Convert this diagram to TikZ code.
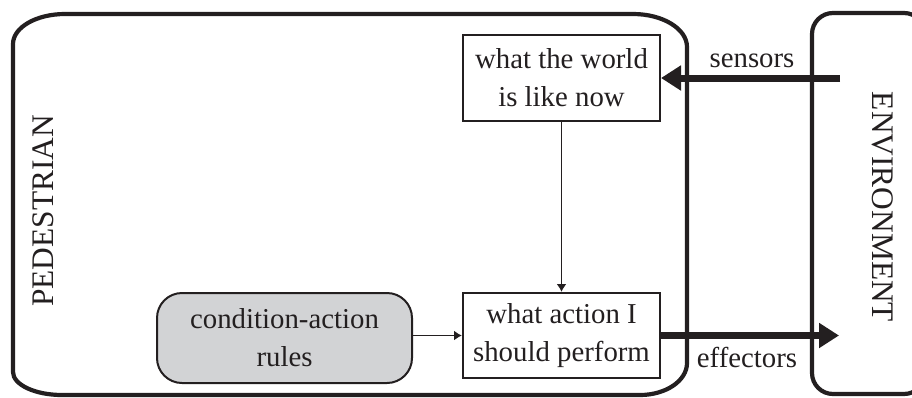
\documentclass[tikz,border=0pt]{standalone}
\usepackage{fontspec}
\setmainfont{Liberation Serif}
\usetikzlibrary{arrows.meta}
\definecolor{ink}{HTML}{231F20}
\definecolor{rulefill}{HTML}{D2D3D5}
\begin{document}
\begin{tikzpicture}[x=1pt,y=-1pt,
  every node/.style={text=ink},
  frame/.style={draw=ink,line width=4.2pt},
  plainbox/.style={draw=ink,line width=2pt,fill=white,minimum width=197pt,
    minimum height=86pt,align=center,inner sep=0pt,
    font=\fontsize{28.8}{38}\selectfont},
  rulebox/.style={plainbox,fill=rulefill,rounded corners=25pt,minimum width=255pt,
    minimum height=90pt},
  thinarrow/.style={draw=ink,line width=1.9pt,-{Latex[length=8pt,width=10pt]}},
  thickarrow/.style={draw=ink,line width=7pt,-{Triangle[length=20pt,width=24pt]}},
  lbl/.style={font=\fontsize{28.8}{34}\selectfont},
  biglbl/.style={font=\fontsize{31.4}{36}\selectfont,inner sep=0pt}]
\useasboundingbox (0,0) rectangle (912,397);

% pedestrian frame with elliptical corners
\draw[frame]
  (13,44) .. controls (13,27.4) and (36.3,14) .. (65,14)
  -- (633,14) .. controls (662.8,14) and (687,28.8) .. (687,47)
  -- (687,363) .. controls (687,380.7) and (665.9,395) .. (640,395)
  -- (62,395) .. controls (35,395) and (13,384.7) .. (13,372)
  -- cycle;

% environment frame
\draw[frame,rounded corners=21pt] (812,394) rectangle (925,13);

% nodes
\node[plainbox] (world) at (561.5,78) {what the world\\is like now};
\node[plainbox,minimum height=85pt] (action) at (561.5,335.5) {what action I\\should perform};
\node[rulebox] (rules) at (284.5,338) {condition-action\\rules};

\node[biglbl,rotate=90] (ped) at (43,211) {PEDESTRIAN};
\node[biglbl,rotate=-90] (env) at (883,207) {ENVIRONMENT};

\coordinate (sensin) at (840,78);
\coordinate (effout) at (839,335.5);

% connectors
\draw[thinarrow] (world.south) -- (action.north);
\draw[thinarrow] (rules.east |- action.west) -- (action.west);
\draw[thickarrow] (sensin) -- (world.east);
\draw[thickarrow] (action.east) -- (effout);

\node[lbl] (sens) at (752,61) {sensors};
\node[lbl] (eff) at (747,357) {effectors};
\end{tikzpicture}
\end{document}
